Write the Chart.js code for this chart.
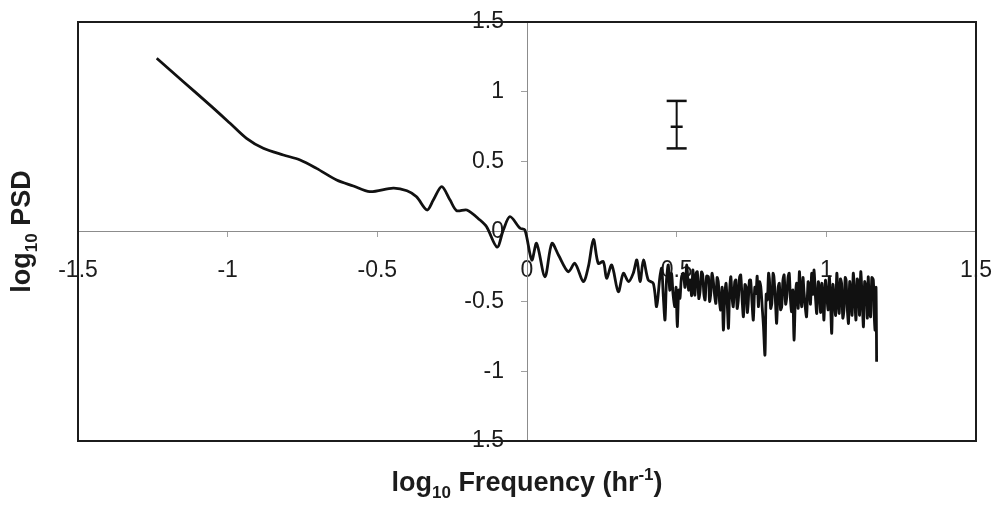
<!DOCTYPE html>
<html>
<head>
<meta charset="utf-8">
<script src="https://cdn.jsdelivr.net/npm/chart.js@4.4.1/dist/chart.umd.min.js"></script>
<style>
  html, body { margin: 0; padding: 0; background: #fff; }
  #wrap { width: 1001px; height: 513px; }
</style>
</head>
<body>
<div id="wrap"><canvas id="psd"></canvas></div>
<script>
// log10 frequency (hr^-1) and log10 PSD
const freqLog = [
  -1.237, -1.148, -1.059, -0.992, -0.937, -0.881, -0.814, -0.758, -0.703, -0.636,
  -0.580, -0.525, -0.447, -0.401, -0.369, -0.334, -0.313, -0.285, -0.257, -0.235,
  -0.201, -0.157, -0.135, -0.100, -0.079, -0.057, -0.023, -0.007, 0.016, 0.032,
  0.060, 0.083, 0.105, 0.138, 0.160, 0.188, 0.205, 0.222, 0.238, 0.255,
  0.266, 0.283, 0.305, 0.322, 0.339, 0.355, 0.367, 0.378, 0.389, 0.405,
  0.422, 0.433, 0.444,
  0.450, 0.455, 0.461, 0.466, 0.472, 0.477, 0.483, 0.488, 0.494, 0.498,
  0.502, 0.507, 0.511, 0.516, 0.522, 0.528, 0.534, 0.540, 0.545, 0.550,
  0.554, 0.558, 0.561, 0.565, 0.569, 0.574, 0.578, 0.583, 0.587, 0.591,
  0.595, 0.600, 0.606, 0.610, 0.614, 0.618, 0.622, 0.627, 0.631, 0.635,
  0.639, 0.643, 0.647, 0.652, 0.656, 0.661, 0.665, 0.669, 0.673, 0.677,
  0.681, 0.685, 0.689, 0.694, 0.698, 0.702, 0.706, 0.710, 0.714, 0.719,
  0.723, 0.728, 0.732, 0.736, 0.739, 0.743, 0.747, 0.752, 0.756, 0.761,
  0.765, 0.769, 0.773, 0.777, 0.781, 0.786, 0.790, 0.795, 0.799, 0.803,
  0.807, 0.810, 0.814, 0.818, 0.822, 0.825, 0.830, 0.834, 0.839, 0.843,
  0.847, 0.851, 0.855, 0.859, 0.864, 0.868, 0.872, 0.876, 0.880, 0.884,
  0.888, 0.892, 0.897, 0.901, 0.906, 0.910, 0.914, 0.918, 0.922, 0.925,
  0.930, 0.934, 0.939, 0.943, 0.947, 0.951, 0.955, 0.959, 0.964, 0.968,
  0.973, 0.977, 0.981, 0.985, 0.989, 0.992, 0.997, 1.001, 1.006, 1.010,
  1.014, 1.018, 1.022, 1.026, 1.031, 1.035, 1.039, 1.043, 1.047, 1.051,
  1.055, 1.059, 1.063, 1.066, 1.070, 1.074, 1.078, 1.081, 1.086, 1.090,
  1.095, 1.099, 1.103, 1.107, 1.111, 1.115, 1.120, 1.124, 1.128, 1.133,
  1.137, 1.140, 1.144, 1.148, 1.152, 1.157, 1.160, 1.163, 1.166, 1.168
];
const psdLog = [
  1.240, 1.072, 0.905, 0.775, 0.667, 0.596, 0.548, 0.512, 0.452, 0.369,
  0.326, 0.285, 0.311, 0.292, 0.249, 0.154, 0.225, 0.321, 0.225, 0.149,
  0.154, 0.082, 0.034, -0.112, 0.011, 0.106, 0.023, 0.011, -0.204, -0.085,
  -0.324, -0.085, -0.168, -0.288, -0.228, -0.359, -0.252, -0.056, -0.228, -0.216,
  -0.335, -0.240, -0.431, -0.299, -0.359, -0.299, -0.204, -0.359, -0.204, -0.347,
  -0.371, -0.538, -0.324,
  -0.263, -0.45, -0.633, -0.35, -0.240, -0.42, -0.30, -0.45, -0.538, -0.40,
  -0.681, -0.42, -0.478, -0.33, -0.299, -0.40, -0.240, -0.42, -0.347, -0.46,
  -0.276, -0.40, -0.455, -0.30, -0.288, -0.48, -0.431, -0.29, -0.311, -0.45,
  -0.490, -0.32, -0.324, -0.50, -0.443, -0.30, -0.347, -0.46, -0.514, -0.33,
  -0.359, -0.50, -0.562, -0.40, -0.705, -0.45, -0.371, -0.52, -0.693, -0.42,
  -0.324, -0.47, -0.538, -0.36, -0.347, -0.55, -0.490, -0.33, -0.311, -0.50,
  -0.610, -0.38, -0.395, -0.58, -0.514, -0.35, -0.347, -0.52, -0.633, -0.40,
  -0.443, -0.32, -0.538, -0.36, -0.395, -0.55, -0.681, -0.884, -0.45, -0.490,
  -0.30, -0.347, -0.55, -0.514, -0.30, -0.324, -0.50, -0.657, -0.40, -0.371,
  -0.56, -0.538, -0.35, -0.311, -0.52, -0.467, -0.33, -0.299, -0.48, -0.574,
  -0.42, -0.777, -0.45, -0.371, -0.55, -0.288, -0.45, -0.538, -0.33, -0.419,
  -0.55, -0.610, -0.36, -0.395, -0.52, -0.299, -0.45, -0.276, -0.48, -0.586,
  -0.36, -0.419, -0.58, -0.371, -0.50, -0.633, -0.35, -0.443, -0.56, -0.324,
  -0.50, -0.729, -0.38, -0.467, -0.60, -0.299, -0.46, -0.586, -0.34, -0.371,
  -0.62, -0.562, -0.33, -0.347, -0.55, -0.657, -0.36, -0.419, -0.60, -0.299,
  -0.48, -0.633, -0.34, -0.371, -0.60, -0.288, -0.50, -0.681, -0.36, -0.419,
  -0.62, -0.324, -0.55, -0.610, -0.33, -0.347, -0.60, -0.705, -0.40, -0.932
];

// the single error bar (upper right)
const errX = [0.5];
const errMean = [0.75];
const errLow = [0.595];
const errHigh = [0.935];

const tickValues = [-1.5, -1, -0.5, 0, 0.5, 1, 1.5];
const tickLabels = ['-1.5', '-1', '-0.5', '0', '0.5', '1', '1.5'];

const labelFont = "'Liberation Sans', Arial, sans-serif";

function tickText(value) {
  const i = tickValues.findIndex(v => Math.abs(v - value) < 1e-6);
  return i >= 0 ? tickLabels[i] : '';
}

// crossing axes should not push the plot area around
function noPad(scale) {
  scale.paddingLeft = 0;
  scale.paddingRight = 0;
  scale.paddingTop = 0;
  scale.paddingBottom = 0;
}

// draws text pieces with sub/superscripts, returns total width
function drawRich(ctx, parts, x, y, measureOnly) {
  let w = 0;
  parts.forEach(p => {
    const size = p.sub || p.sup ? 17 : 27;
    ctx.font = 'bold ' + size + 'px ' + labelFont;
    const dy = p.sub ? 7 : (p.sup ? -11 : 0);
    if (!measureOnly) ctx.fillText(p.t, x + w, y + dy);
    w += ctx.measureText(p.t).width;
  });
  return w;
}

const xTitle = [{t: 'log'}, {t: '10', sub: true}, {t: ' Frequency (hr'}, {t: '-1', sup: true}, {t: ')'}];
const yTitle = [{t: 'log'}, {t: '10', sub: true}, {t: ' PSD'}];

const framePlugin = {
  id: 'frame',
  afterDraw(chart) {
    const {ctx, chartArea: a} = chart;
    ctx.save();
    ctx.strokeStyle = '#1c1c1c';
    ctx.lineWidth = 2;
    ctx.strokeRect(a.left, a.top, a.right - a.left, a.bottom - a.top);

    ctx.fillStyle = '#1c1c1c';
    ctx.textBaseline = 'alphabetic';
    ctx.textAlign = 'left';
    const cx = (a.left + a.right) / 2;
    const wx = drawRich(ctx, xTitle, 0, 0, true);
    drawRich(ctx, xTitle, cx - wx / 2, 491, false);

    ctx.translate(30, (a.top + a.bottom) / 2);
    ctx.rotate(-Math.PI / 2);
    const wy = drawRich(ctx, yTitle, 0, 0, true);
    drawRich(ctx, yTitle, -wy / 2, 0, false);
    ctx.restore();
  }
};

const mainPoints = freqLog.map((x, i) => ({x: x, y: psdLog[i]}));
const errPoints = [];
errX.forEach((x, i) => {
  errPoints.push({x: x, y: errHigh[i]}, {x: x, y: errMean[i]}, {x: x, y: errLow[i]});
});

const axisTicks = {
  color: '#1c1c1c',
  font: {family: labelFont, size: 23},
  stepSize: 0.5,
  autoSkip: false,
  maxRotation: 0
};

new Chart(document.getElementById('psd'), {
  type: 'scatter',
  data: {
    datasets: [{
      data: mainPoints,
      showLine: true,
      borderColor: '#111',
      borderWidth: 2.8,
      tension: 0.3,
      pointRadius: 0
    }, {
      data: errPoints,
      showLine: true,
      borderColor: '#111',
      borderWidth: 2,
      pointStyle: 'line',
      pointRadius: [10, 6, 10],
      pointBorderWidth: 2.5,
      pointBorderColor: '#111'
    }]
  },
  options: {
    responsive: true,
    maintainAspectRatio: false,
    animation: false,
    devicePixelRatio: 1,
    layout: {
      padding: {left: 78, right: 25, top: 22, bottom: 72}
    },
    plugins: {
      legend: {display: false},
      tooltip: {enabled: false}
    },
    scales: {
      x: {
        type: 'linear',
        min: -1.5,
        max: 1.5,
        position: {y: 0},
        afterFit: noPad,
        grid: {display: true, drawOnChartArea: false, drawTicks: true, tickLength: 5, color: '#a0a0a0'},
        border: {display: true, color: '#8c8c8c', width: 1},
        ticks: Object.assign({}, axisTicks, {padding: 20, callback: tickText})
      },
      y: {
        type: 'linear',
        min: -1.5,
        max: 1.5,
        position: {x: 0},
        afterFit: noPad,
        grid: {display: true, drawOnChartArea: false, drawTicks: true, tickLength: 6, color: '#a0a0a0'},
        border: {display: true, color: '#8c8c8c', width: 1},
        ticks: Object.assign({}, axisTicks, {
          padding: 16,
          callback: v => tickText(v) + '\u2002\u2002'
        })
      }
    }
  },
  plugins: [framePlugin]
});
</script>
</body>
</html>
